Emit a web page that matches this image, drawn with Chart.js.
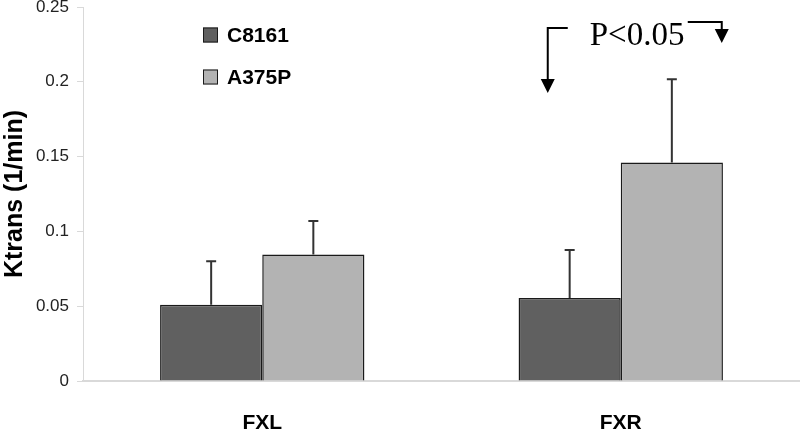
<!DOCTYPE html>
<html>
<head>
<meta charset="utf-8">
<script src="https://cdn.jsdelivr.net/npm/chart.js@4.4.0/dist/chart.umd.min.js"></script>
<style>
  html, body { margin: 0; padding: 0; background: #fff; }
  #wrap { width: 800px; height: 430px; }
</style>
</head>
<body>
<div id="wrap"><canvas id="chart"></canvas></div>
<script>
// Data
const categories = ['FXL', 'FXR'];
const c8161Values = [0.051, 0.0555];
const a375pValues = [0.0845, 0.146];
const c8161Err = [0.029, 0.032];   // upper error (SD)
const a375pErr = [0.0225, 0.0557];
const yTickLabels = ['0', '0.05', '0.1', '0.15', '0.2', '0.25'];

const darkGray = '#606060';
const lightGray = '#b3b3b3';

// upper error bars only
const errorBars = {
    id: 'errorBars',
    afterDatasetsDraw(chart) {
        const ctx = chart.ctx;
        const y = chart.scales.y;
        const errs = [c8161Err, a375pErr];
        ctx.save();
        ctx.strokeStyle = '#333';
        ctx.lineWidth = 2;
        chart.data.datasets.forEach((ds, i) => {
            const meta = chart.getDatasetMeta(i);
            meta.data.forEach((bar, j) => {
                const top = y.getPixelForValue(ds.data[j] + errs[i][j]);
                ctx.beginPath();
                ctx.moveTo(bar.x, bar.y);
                ctx.lineTo(bar.x, top);
                ctx.moveTo(bar.x - 5, top);
                ctx.lineTo(bar.x + 5, top);
                ctx.stroke();
            });
        });
        ctx.restore();
    }
};

// legend in the top-left corner of the plot
const boxLegend = {
    id: 'boxLegend',
    afterDraw(chart) {
        const ctx = chart.ctx;
        ctx.save();
        chart.data.datasets.forEach((ds, i) => {
            const cy = 35 + i * 42;
            ctx.fillStyle = ds.backgroundColor;
            ctx.fillRect(203, cy - 7.5, 15, 15);
            ctx.strokeStyle = '#1a1a1a';
            ctx.lineWidth = 1;
            ctx.strokeRect(203.5, cy - 7, 14, 14);
            ctx.fillStyle = '#000';
            ctx.font = 'bold 21px "Liberation Sans", Arial, sans-serif';
            ctx.textBaseline = 'middle';
            ctx.fillText(ds.label, 227, cy + 1);
        });
        ctx.restore();
    }
};

// significance marker over FXR
const pValue = {
    id: 'pValue',
    afterDraw(chart) {
        const ctx = chart.ctx;
        const cx = chart.scales.x.getPixelForValue(1);
        const lx = cx - 73, rx = cx + 101;
        ctx.save();
        ctx.strokeStyle = '#000';
        ctx.fillStyle = '#000';
        ctx.lineWidth = 2;
        ctx.beginPath();
        ctx.moveTo(lx + 20, 28);
        ctx.lineTo(lx, 28);
        ctx.lineTo(lx, 80);
        ctx.moveTo(rx - 34, 22);
        ctx.lineTo(rx, 22);
        ctx.lineTo(rx, 30);
        ctx.stroke();
        ctx.beginPath();
        ctx.moveTo(lx - 7, 79);
        ctx.lineTo(lx + 7, 79);
        ctx.lineTo(lx, 93);
        ctx.closePath();
        ctx.fill();
        ctx.beginPath();
        ctx.moveTo(rx - 7, 29);
        ctx.lineTo(rx + 7, 29);
        ctx.lineTo(rx, 43);
        ctx.closePath();
        ctx.fill();
        ctx.font = '33px "Liberation Serif", "Times New Roman", serif';
        ctx.textBaseline = 'alphabetic';
        ctx.fillText('P<0.05', cx - 31, 45);
        ctx.restore();
    }
};

const ctx = document.getElementById('chart').getContext('2d');
new Chart(ctx, {
    type: 'bar',
    data: {
        labels: categories,
        datasets: [{
            label: 'C8161',
            data: c8161Values,
            backgroundColor: darkGray,
            borderColor: '#1a1a1a',
            borderWidth: 1.5
        }, {
            label: 'A375P',
            data: a375pValues,
            backgroundColor: lightGray,
            borderColor: '#1a1a1a',
            borderWidth: 1.5
        }]
    },
    options: {
        responsive: true,
        maintainAspectRatio: false,
        animation: false,
        layout: { padding: { top: 7, right: 0, left: 0, bottom: 0 } },
        categoryPercentage: 0.57,
        barPercentage: 1.0,
        plugins: {
            legend: { display: false },
            tooltip: { enabled: false }
        },
        scales: {
            x: {
                grid: { display: false },
                border: { display: true, color: '#d9d9d9', width: 2 },
                ticks: {
                    color: '#000',
                    padding: 22,
                    font: { family: '"Liberation Sans", Arial, sans-serif', size: 21, weight: 'bold' }
                },
                afterFit: s => { s.height = 49; s.paddingLeft = 0; s.paddingRight = 0; }
            },
            y: {
                min: 0,
                max: 0.25,
                grid: { drawOnChartArea: false, drawTicks: true, tickLength: 6, color: '#d9d9d9' },
                border: { display: true, color: '#d9d9d9', width: 1 },
                ticks: {
                    stepSize: 0.05,
                    color: '#222',
                    padding: 8,
                    font: { family: '"Liberation Sans", Arial, sans-serif', size: 17 },
                    callback: (v, i) => yTickLabels[i]
                },
                title: {
                    display: true,
                    text: 'Ktrans (1/min)',
                    color: '#000',
                    padding: { top: 0, bottom: 4 },
                    font: { family: '"Liberation Sans", Arial, sans-serif', size: 25, weight: 'bold' }
                },
                afterFit: s => { s.width = 83; s.paddingTop = 0; s.paddingBottom = 0; }
            }
        }
    },
    plugins: [errorBars, boxLegend, pValue]
});
</script>
</body>
</html>
